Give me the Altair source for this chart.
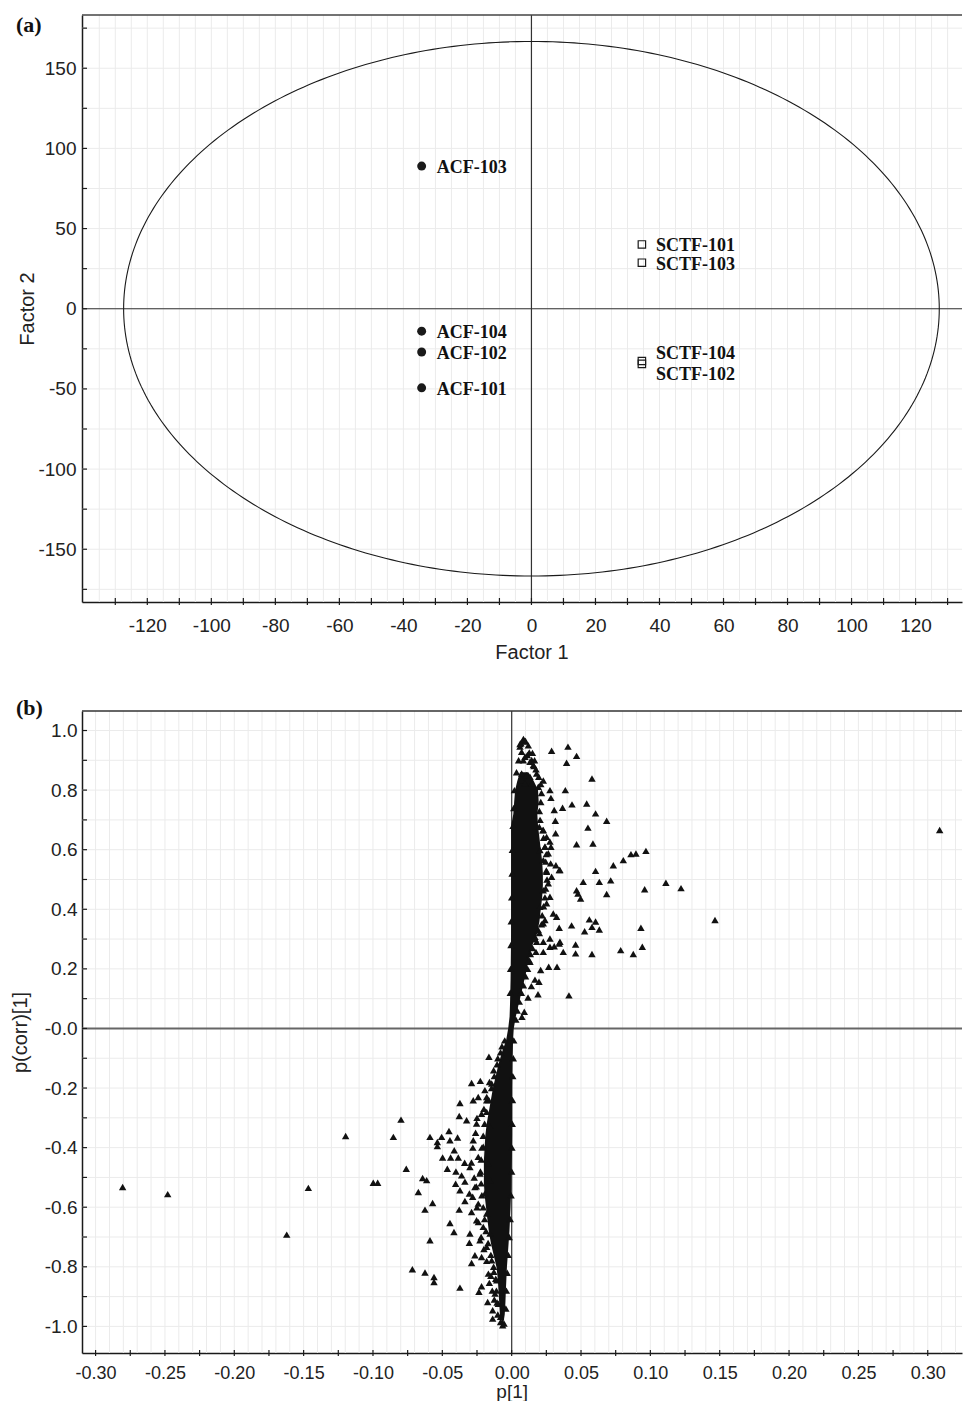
import altair as alt
import numpy as np
import pandas as pd

# ================= Panel (a): score plot =================
acf_names = ["ACF-103", "ACF-104", "ACF-102", "ACF-101"]
acf_f1 = [-34.3, -34.3, -34.3, -34.3]
acf_f2 = [89.0, -14.0, -27.0, -49.3]

sctf_names = ["SCTF-101", "SCTF-103", "SCTF-104", "SCTF-102"]
sctf_f1 = [34.5, 34.5, 34.5, 34.5]
sctf_f2 = [40.1, 28.7, -32.6, -34.4]

ellipse_rx = 127.4   # Hotelling T2 ellipse half-axis on Factor 1
ellipse_ry = 166.7   # half-axis on Factor 2

a_x_labels = [-120, -100, -80, -60, -40, -20, 0, 20, 40, 60, 80, 100, 120]
a_y_labels = [-150, -100, -50, 0, 50, 100, 150]
a_x_ticks = list(range(-130, 131, 10))
a_y_ticks = list(range(-175, 176, 25))
a_x_grid = list(range(-135, 131, 5))
a_y_grid = list(range(-175, 176, 25))

# ================= Panel (b): S-plot =================
b_x_labels = [-0.30, -0.25, -0.20, -0.15, -0.10, -0.05, 0.0, 0.05, 0.10, 0.15, 0.20, 0.25, 0.30]
b_y_labels = [-1.0, -0.8, -0.6, -0.4, -0.2, 0.0, 0.2, 0.4, 0.6, 0.8, 1.0]
b_x_ticks = [round(-0.30 + 0.025 * i, 3) for i in range(25)]
b_y_ticks = [round(-1.0 + 0.1 * i, 2) for i in range(21)]
b_x_grid = [round(-0.30 + 0.01 * i, 3) for i in range(63)]
b_y_grid = [round(-1.0 + 0.1 * i, 2) for i in range(21)]

# dense core of the S-plot (overlapping triangles): p(corr) level, p[1] left / right edge
core_pcorr = [0.86, 0.83, 0.80, 0.76, 0.72, 0.68, 0.64, 0.60, 0.56, 0.52, 0.48, 0.44,
              0.40, 0.36, 0.32, 0.28, 0.24, 0.20, 0.16, 0.12, 0.08, 0.04, 0.00, -0.04,
              -0.08, -0.12, -0.16, -0.20, -0.24, -0.28, -0.32, -0.36, -0.40, -0.44, -0.48,
              -0.52, -0.56, -0.60, -0.64, -0.68, -0.72, -0.76, -0.80, -0.84, -0.88, -0.92,
              -0.96, -0.99]
core_p_lo = [0.0060, 0.0040, 0.0025, 0.0018, 0.0012, -0.0004, -0.0004, -0.0004, -0.0004,
             -0.0004, -0.0004, -0.0004, -0.0004, -0.0004, -0.0004, -0.0005, -0.0006, -0.0007,
             -0.0008, -0.0010, -0.0012, -0.0015, -0.0025, -0.0040, -0.0070, -0.0095, -0.0115,
             -0.0135, -0.0150, -0.0165, -0.0180, -0.0190, -0.0195, -0.0200, -0.0200, -0.0200,
             -0.0195, -0.0185, -0.0175, -0.0165, -0.0150, -0.0130, -0.0110, -0.0100, -0.0095,
             -0.0090, -0.0085, -0.0070]
core_p_hi = [0.0120, 0.0160, 0.0190, 0.0195, 0.0185, 0.0190, 0.0200, 0.0210, 0.0220, 0.0225,
             0.0225, 0.0220, 0.0210, 0.0200, 0.0185, 0.0150, 0.0125, 0.0110, 0.0090, 0.0070,
             0.0050, 0.0030, 0.0015, 0.0010, 0.0008, 0.0006, 0.0005, 0.0004, 0.0004, 0.0004,
             0.0004, 0.0004, 0.0003, 0.0001, -0.0002, -0.0003, -0.0005, -0.0008, -0.0012,
             -0.0016, -0.0022, -0.0028, -0.0034, -0.0038, -0.0042, -0.0045, -0.0050, -0.0060]

# individual triangles: top of the core
top_p = [0.0060, 0.0067, 0.0084, 0.0096, 0.0072, 0.0127, 0.0113, 0.0096, 0.0144, 0.0156,
         0.0132, 0.0072, 0.0108, 0.0132, 0.0180, 0.0072, 0.0096, 0.0144, 0.0192, 0.0228,
         0.0161, 0.0084]
top_pcorr = [0.946, 0.957, 0.968, 0.963, 0.929, 0.926, 0.918, 0.912, 0.901, 0.884,
             0.895, 0.856, 0.850, 0.845, 0.856, 0.834, 0.822, 0.822, 0.811, 0.832,
             0.881, 0.900]

# positive-side outliers
pos_p = [0.0288, 0.0406, 0.0468, 0.0396, 0.0579, 0.0387, 0.0283, 0.0367, 0.0435, 0.0541,
         0.0605, 0.0685, 0.0307, 0.0315, 0.0550, 0.0317, 0.0468, 0.0586, 0.0283, 0.0733,
         0.0805, 0.0860, 0.0896, 0.0968, 0.0605, 0.0516, 0.0632, 0.0714, 0.0468, 0.0478,
         0.0497, 0.0685, 0.0959, 0.0343, 0.0319, 0.0432, 0.0343, 0.0560, 0.0605, 0.0632,
         0.0526, 0.0579, 0.0932, 0.0461, 0.0461, 0.0579, 0.0786, 0.0877, 0.0942, 0.0372,
         0.0343, 0.0307, 0.0276, 0.0228, 0.0175, 0.0209, 0.0267, 0.0327, 0.0413, 0.0190,
         0.0197, 0.0168, 0.0142, 0.0118, 0.0091, 0.0074, 0.0132, 0.0180, 0.0228, 0.0324,
         0.0348, 0.0276, 0.1112, 0.1221, 0.1466, 0.3086,
         0.0199, 0.0228, 0.0252, 0.0276, 0.0240, 0.0204, 0.0264, 0.0228, 0.0281, 0.0252,
         0.0288, 0.0264, 0.0228, 0.0276, 0.0252, 0.0204, 0.0300, 0.0240, 0.0228, 0.0192,
         0.0168, 0.0276, 0.0348]
pos_pcorr = [0.932, 0.946, 0.915, 0.892, 0.839, 0.800, 0.774, 0.741, 0.752, 0.755,
             0.722, 0.697, 0.733, 0.697, 0.674, 0.655, 0.618, 0.621, 0.610, 0.548,
             0.565, 0.585, 0.587, 0.596, 0.529, 0.492, 0.492, 0.497, 0.464, 0.453,
             0.436, 0.451, 0.467, 0.532, 0.548, 0.346, 0.338, 0.366, 0.359, 0.332,
             0.326, 0.341, 0.338, 0.282, 0.252, 0.250, 0.263, 0.250, 0.274, 0.257,
             0.285, 0.276, 0.274, 0.257, 0.257, 0.196, 0.207, 0.207, 0.111, 0.115,
             0.157, 0.164, 0.142, 0.104, 0.056, 0.039, 0.224, 0.291, 0.291, 0.375,
             0.532, 0.800, 0.489, 0.471, 0.364, 0.666,
             0.677, 0.666, 0.643, 0.627, 0.610, 0.599, 0.588, 0.565, 0.554, 0.526,
             0.509, 0.487, 0.464, 0.442, 0.420, 0.408, 0.386, 0.364, 0.353, 0.330,
             0.308, 0.302, 0.291]

# negative-side outliers
neg_p = [-0.0164, -0.0289, -0.0226, -0.0193, -0.0144, -0.0277, -0.0373, -0.0241, -0.0378,
         -0.0325, -0.0798, -0.1197, -0.0853, -0.0589, -0.0505, -0.0452, -0.0536, -0.0536,
         -0.0445, -0.0390, -0.0414, -0.0498, -0.0440, -0.0385, -0.0339, -0.0464, -0.0760,
         -0.0402, -0.0361, -0.0998, -0.0966, -0.0642, -0.0613, -0.0404, -0.0337, -0.0673,
         -0.0373, -0.0305, -0.0281, -0.0337, -0.0570, -0.0625, -0.0378, -0.0289, -0.0445,
         -0.0416, -0.0589, -0.0301, -0.0305, -0.0265, -0.0289, -0.0716, -0.0625, -0.0560,
         -0.0560, -0.0373, -0.0217, -0.0236, -0.0173, -0.0137, -0.0137, -0.0161, -0.0128,
         -0.0065, -0.0080, -0.2805, -0.2480, -0.1622, -0.1466,
         -0.0250, -0.0260, -0.0280, -0.0290, -0.0270, -0.0255, -0.0250, -0.0240, -0.0220,
         -0.0200, -0.0180, -0.0150, -0.0140, -0.0125, -0.0200, -0.0180, -0.0160, -0.0130,
         -0.0100, -0.0070,
         -0.0180, -0.0217, -0.0253, -0.0156, -0.0277, -0.0205, -0.0241, -0.0168, -0.0301,
         -0.0229, -0.0156, -0.0265, -0.0193, -0.0241, -0.0180, -0.0253, -0.0205, -0.0156,
         -0.0229, -0.0180, -0.0217, -0.0144, -0.0168, -0.0108, -0.0120, -0.0096]
neg_pcorr = [-0.095, -0.183, -0.176, -0.207, -0.185, -0.241, -0.250, -0.230, -0.294,
             -0.308, -0.306, -0.361, -0.364, -0.364, -0.364, -0.344, -0.381, -0.395,
             -0.375, -0.366, -0.409, -0.433, -0.433, -0.433, -0.451, -0.471, -0.471,
             -0.480, -0.493, -0.518, -0.518, -0.502, -0.509, -0.521, -0.514, -0.549,
             -0.543, -0.554, -0.565, -0.579, -0.586, -0.608, -0.608, -0.616, -0.653,
             -0.683, -0.711, -0.688, -0.719, -0.761, -0.787, -0.808, -0.819, -0.834,
             -0.851, -0.870, -0.865, -0.884, -0.918, -0.946, -0.974, -0.854, -0.817,
             -0.996, -0.968, -0.532, -0.556, -0.692, -0.535,
             -0.300, -0.350, -0.400, -0.450, -0.500, -0.530, -0.600, -0.650, -0.700,
             -0.740, -0.780, -0.830, -0.880, -0.910, -0.270, -0.230, -0.180, -0.140,
             -0.100, -0.060,
             -0.241, -0.286, -0.319, -0.330, -0.375, -0.397, -0.431, -0.453, -0.465,
             -0.487, -0.509, -0.532, -0.554, -0.588, -0.621, -0.644, -0.666, -0.688,
             -0.711, -0.733, -0.767, -0.778, -0.823, -0.845, -0.890, -0.924]

# triangles along the jagged edges of the dense core
edge_p = [0.0100, 0.0085, 0.0120, 0.0150, 0.0165, 0.0175, 0.0195, 0.0210, 0.0215, 0.0210,
          0.0200, 0.0205, 0.0225, 0.0230, 0.0240, 0.0250, 0.0245, 0.0250, 0.0255, 0.0245,
          0.0240, 0.0230, 0.0220, 0.0215, 0.0200, 0.0170, 0.0150, 0.0135, 0.0125, 0.0115,
          0.0100, 0.0085, 0.0070, 0.0055, 0.0040, 0.0030,
          0.0060, 0.0050, 0.0035, 0.0020, 0.0015, 0.0010, 0.0005, 0.0003, 0.0000, -0.0003,
          -0.0005, -0.0008, -0.0010,
          -0.0050, -0.0080, -0.0105, -0.0125, -0.0145, -0.0165, -0.0180, -0.0195, -0.0205,
          -0.0215, -0.0220, -0.0225, -0.0220, -0.0215, -0.0205, -0.0195, -0.0185, -0.0170,
          -0.0150, -0.0130, -0.0115, -0.0110, -0.0105, -0.0100, -0.0080,
          0.0015, 0.0012, 0.0008, 0.0006, 0.0004, 0.0002, 0.0000, -0.0004, -0.0010, -0.0018,
          -0.0025, -0.0032, -0.0038, -0.0042, -0.0055]
edge_pcorr = [0.965, 0.972, 0.950, 0.925, 0.900, 0.870, 0.845, 0.820, 0.790, 0.760,
              0.730, 0.700, 0.665, 0.640, 0.610, 0.585, 0.560, 0.530, 0.500, 0.470,
              0.440, 0.410, 0.380, 0.350, 0.320, 0.300, 0.270, 0.250, 0.230, 0.200,
              0.175, 0.145, 0.120, 0.090, 0.060, 0.030,
              0.955, 0.900, 0.860, 0.800, 0.740, 0.680, 0.600, 0.520, 0.440, 0.360,
              0.280, 0.200, 0.120,
              -0.040, -0.080, -0.120, -0.160, -0.200, -0.240, -0.280, -0.320, -0.360,
              -0.400, -0.440, -0.480, -0.520, -0.560, -0.600, -0.640, -0.680, -0.720,
              -0.760, -0.800, -0.840, -0.880, -0.920, -0.960, -0.985,
              -0.040, -0.100, -0.160, -0.240, -0.320, -0.400, -0.480, -0.560, -0.640, -0.700,
              -0.760, -0.820, -0.880, -0.940, -0.990]

# ================= styling =================
SANS = "Liberation Sans"
SERIF = "Liberation Serif"
INK = "#1a1a1a"
GRID = "#ebebeb"
MINUS = "\u2212"

AW, AH = 880, 587
BW, BH = 880, 642


def axis(title, values, lab_pad, title_pad, extent, label_expr, title_x=None,
         label_size=19, title_size=20):
    kw = dict(title=title, values=values, grid=False, ticks=False, tickSize=0,
              labelPadding=lab_pad, titlePadding=title_pad, minExtent=extent, maxExtent=extent,
              domainColor=INK, domainWidth=1.5, labelFont=SANS, labelFontSize=label_size,
              labelColor="#222", titleFont=SANS, titleFontSize=title_size,
              titleFontWeight="normal", titleColor="#222", labelFlush=False,
              labelOverlap=False, labelExpr=label_expr)
    if title_x is not None:
        kw["titleX"] = title_x
    return alt.Axis(**kw)


# ---------------- panel (a) ----------------
ax_scale = alt.Scale(domain=[-140.4, 134.5], nice=False, zero=False)
ay_scale = alt.Scale(domain=[-182.9, 183.2], nice=False, zero=False)
ax_axis = axis("Factor 1", a_x_labels, 14, 7, 33, "toString(datum.value)", title_x=449.5)
ay_axis = axis("Factor 2", a_y_labels, 6, 1, 44, "toString(datum.value)")


def AX(f):
    return alt.X(f, type="quantitative", scale=ax_scale, axis=ax_axis)


def AY(f):
    return alt.Y(f, type="quantitative", scale=ay_scale, axis=ay_axis)


a_gx = alt.Chart(pd.DataFrame({"gx": a_x_grid})).mark_rule(color=GRID, strokeWidth=1).encode(x=AX("gx"))
a_gy = alt.Chart(pd.DataFrame({"gy": a_y_grid})).mark_rule(color=GRID, strokeWidth=1).encode(y=AY("gy"))
a_z = pd.DataFrame({"z": [0]})
a_zx = alt.Chart(a_z).mark_rule(color="#333", strokeWidth=1.2).encode(x=AX("z"))
a_zy = alt.Chart(a_z).mark_rule(color="#333", strokeWidth=1.2).encode(y=AY("z"))

theta = np.linspace(0, 2 * np.pi, 361)
ell = pd.DataFrame({"ex": ellipse_rx * np.cos(theta), "ey": ellipse_ry * np.sin(theta),
                    "i": np.arange(len(theta))})
a_ell = alt.Chart(ell).mark_line(color=INK, strokeWidth=1.1).encode(
    x=AX("ex"), y=AY("ey"), order="i:Q")

a_tx = alt.Chart(pd.DataFrame({"tx": a_x_ticks})).mark_rule(color=INK, strokeWidth=1.2).encode(
    x=AX("tx"), y=alt.value(AH - 4), y2=alt.value(AH + 3))
a_ty = alt.Chart(pd.DataFrame({"ty": a_y_ticks})).mark_rule(color=INK, strokeWidth=1.2).encode(
    y=AY("ty"), x=alt.value(0), x2=alt.value(5))
a_top = alt.Chart(pd.DataFrame({"t": [0]})).mark_rule(color="#444", strokeWidth=1.5).encode(
    x=alt.value(0), x2=alt.value(AW), y=alt.value(0))

acf = pd.DataFrame({"name": acf_names, "f1": acf_f1, "f2": acf_f2})
sctf = pd.DataFrame({"name": sctf_names, "f1": sctf_f1, "f2": sctf_f2})

a_acf = alt.Chart(acf).mark_circle(size=80, color=INK, opacity=1).encode(x=AX("f1"), y=AY("f2"))
a_sctf = alt.Chart(sctf).mark_point(shape="square", filled=False, color=INK, strokeWidth=1.2,
                                    size=55, opacity=1).encode(x=AX("f1"), y=AY("f2"))

lab_style = dict(align="left", baseline="middle", font=SERIF, fontWeight="bold", fontSize=18,
                 color="#111")
a_acf_lab = alt.Chart(acf).mark_text(dx=15, dy=2, **lab_style).encode(
    x=AX("f1"), y=AY("f2"), text="name:N")
a_sctf_lab = alt.Chart(sctf).transform_filter(
    "datum.name == 'SCTF-101' || datum.name == 'SCTF-103'").mark_text(dx=14, dy=2, **lab_style).encode(
    x=AX("f1"), y=AY("f2"), text="name:N")
a_sctf_lab104 = alt.Chart(sctf).transform_filter("datum.name == 'SCTF-104'").mark_text(
    dx=14, dy=-7, **lab_style).encode(x=AX("f1"), y=AY("f2"), text="name:N")
a_sctf_lab102 = alt.Chart(sctf).transform_filter("datum.name == 'SCTF-102'").mark_text(
    dx=14, dy=11, **lab_style).encode(x=AX("f1"), y=AY("f2"), text="name:N")

a_tag = alt.Chart(pd.DataFrame({"t": ["(a)"]})).mark_text(
    align="left", baseline="alphabetic", font=SERIF, fontWeight="bold", fontSize=22,
    color="#111").encode(x=alt.value(-66), y=alt.value(17), text="t:N")

panel_a = alt.layer(a_gx, a_gy, a_zx, a_zy, a_ell, a_tx, a_ty, a_top, a_acf, a_sctf,
                    a_acf_lab, a_sctf_lab, a_sctf_lab104, a_sctf_lab102, a_tag).properties(
    width=AW, height=AH)

# ---------------- panel (b) ----------------
bx_scale = alt.Scale(domain=[-0.3098, 0.3247], nice=False, zero=False)
by_scale = alt.Scale(domain=[-1.0893, 1.0655], nice=False, zero=False)
bx_axis = axis("p[1]", b_x_labels, 11, 0, 29,
               "replace(format(datum.value, '.2f'), '" + MINUS + "', '-')", title_x=429.7,
               label_size=18, title_size=19)
by_axis = axis("p(corr)[1]", b_y_labels, 5, 14, 38,
               "abs(datum.value) < 1e-9 ? '-0.0' : replace(format(datum.value, '.1f'), '"
               + MINUS + "', '-')")


def BX(f):
    return alt.X(f, type="quantitative", scale=bx_scale, axis=bx_axis)


def BY(f):
    return alt.Y(f, type="quantitative", scale=by_scale, axis=by_axis)


b_gx = alt.Chart(pd.DataFrame({"gx": b_x_grid})).mark_rule(color=GRID, strokeWidth=1).encode(x=BX("gx"))
b_gy = alt.Chart(pd.DataFrame({"gy": b_y_grid})).mark_rule(color=GRID, strokeWidth=1).encode(y=BY("gy"))
b_z = pd.DataFrame({"z": [0.0]})
b_zy = alt.Chart(b_z).mark_rule(color="#666", strokeWidth=2).encode(y=BY("z"))
b_zx = alt.Chart(b_z).mark_rule(color="#444", strokeWidth=1.3).encode(x=BX("z"))

b_tx = alt.Chart(pd.DataFrame({"tx": b_x_ticks})).mark_rule(color=INK, strokeWidth=1.2).encode(
    x=BX("tx"), y=alt.value(BH - 3), y2=alt.value(BH + 3))
b_ty = alt.Chart(pd.DataFrame({"ty": b_y_ticks})).mark_rule(color=INK, strokeWidth=1.2).encode(
    y=BY("ty"), x=alt.value(0), x2=alt.value(5))
b_top = alt.Chart(pd.DataFrame({"t": [0]})).mark_rule(color="#333", strokeWidth=1.5).encode(
    x=alt.value(0), x2=alt.value(BW), y=alt.value(0))

core = pd.DataFrame({"cy": core_pcorr, "cx1": core_p_lo, "cx2": core_p_hi})
b_core = alt.Chart(core).mark_area(orient="horizontal", color="#111", opacity=1).encode(
    y=BY("cy"), x=BX("cx1"), x2="cx2:Q")

tri = pd.DataFrame({
    "p": top_p + pos_p + neg_p + edge_p,
    "pc": top_pcorr + pos_pcorr + neg_pcorr + edge_pcorr,
})
b_tri = alt.Chart(tri).mark_point(shape="triangle-up", filled=True, color="#111", size=55,
                                  opacity=1).encode(x=BX("p"), y=BY("pc"))

b_tag = alt.Chart(pd.DataFrame({"t": ["(b)"]})).mark_text(
    align="left", baseline="alphabetic", font=SERIF, fontWeight="bold", fontSize=22,
    color="#111").encode(x=alt.value(-66), y=alt.value(4), text="t:N")

panel_b = alt.layer(b_gx, b_gy, b_zy, b_zx, b_tx, b_ty, b_top, b_core, b_tri, b_tag).properties(
    width=BW, height=BH)

chart = alt.vconcat(panel_a, panel_b, spacing=109, bounds="flush").properties(
    padding={"left": 2, "top": 6, "right": 0, "bottom": 0}
).configure_view(stroke=None)

chart.save("out.html", embed_options={"renderer": "svg", "actions": False})
